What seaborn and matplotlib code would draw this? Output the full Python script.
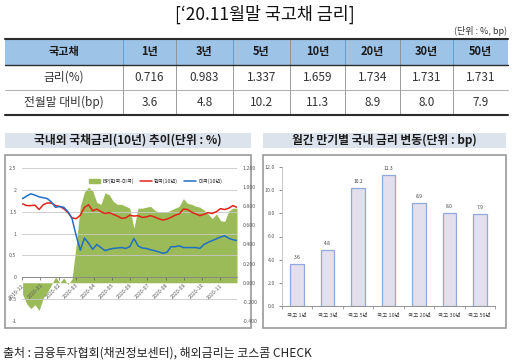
import numpy as np
import pandas as pd
import matplotlib
matplotlib.use("Agg")
import matplotlib.pyplot as plt
import matplotlib.dates as mdates
from matplotlib.patches import Rectangle, Patch
from matplotlib.lines import Line2D
from matplotlib.ticker import FuncFormatter
import seaborn as sns

# ---------------------------
# DATA
# ---------------------------
maturities = ["1년", "3년", "5년", "10년", "20년", "30년", "50년"]
rates = [0.716, 0.983, 1.337, 1.659, 1.734, 1.731, 1.731]
change_bp = [3.6, 4.8, 10.2, 11.3, 8.9, 8.0, 7.9]
bar_labels = ["국고 1년", "국고 3년", "국고 5년", "국고 10년", "국고 20년", "국고 30년", "국고 50년"]

# weekly readings, 2019-12-02 .. 2020-11-30
dates = pd.date_range("2019-12-02", periods=53, freq="7D")
kr_10y = [1.68, 1.64, 1.64, 1.65, 1.55, 1.66, 1.70, 1.70, 1.64, 1.62, 1.57, 1.48, 1.36,
          1.34, 1.42, 1.60, 1.66, 1.52, 1.56, 1.50, 1.46, 1.48, 1.44, 1.40, 1.35, 1.36,
          1.42, 1.40, 1.41, 1.37, 1.38, 1.41, 1.38, 1.34, 1.31, 1.33, 1.37, 1.42, 1.45,
          1.56, 1.55, 1.49, 1.45, 1.41, 1.44, 1.48, 1.46, 1.50, 1.57, 1.55, 1.58, 1.64, 1.60]
us_10y = [1.80, 1.86, 1.91, 1.88, 1.84, 1.82, 1.80, 1.72, 1.60, 1.62, 1.60, 1.50, 1.34,
          0.95, 0.62, 0.90, 0.78, 0.64, 0.75, 0.68, 0.61, 0.64, 0.66, 0.67, 0.68, 0.66,
          0.70, 0.89, 0.72, 0.67, 0.66, 0.63, 0.61, 0.58, 0.55, 0.57, 0.70, 0.70, 0.72,
          0.68, 0.68, 0.68, 0.68, 0.66, 0.75, 0.80, 0.84, 0.88, 0.92, 0.95, 0.89, 0.86, 0.84]
spread = [-0.12, -0.22, -0.27, -0.23, -0.29, -0.16, -0.10, -0.02, 0.06, 0.00, 0.05, -0.02, 0.04,
          0.40, 0.80, 0.95, 1.00, 0.96, 0.84, 0.82, 0.94, 0.92, 0.85, 0.82, 0.82, 0.80,
          0.78, 0.57, 0.78, 0.78, 0.79, 0.80, 0.76, 0.74, 0.74, 0.74, 0.76, 0.78, 0.80,
          0.88, 0.83, 0.82, 0.80, 0.79, 0.76, 0.72, 0.67, 0.72, 0.65, 0.64, 0.75, 0.78, 0.78]

left_ticks = [-1, -0.5, 0, 0.5, 1, 1.5, 2, 2.5]
right_ticks = [-0.4, -0.2, 0.0, 0.2, 0.4, 0.6, 0.8, 1.0, 1.2]
bar_ticks = [0, 2, 4, 6, 8, 10, 12]

# ---------------------------
# STYLE
# ---------------------------
sns.set_theme(style="white")
plt.rcParams["font.family"] = ["Noto Sans CJK KR", "DejaVu Sans"]
plt.rcParams["axes.unicode_minus"] = False

W, H = 512, 364
fig = plt.figure(figsize=(W / 100, H / 100), dpi=100)


def px_rect(x0, y0, x1, y1):
    return [x0 / W, 1 - y1 / H, (x1 - x0) / W, (y1 - y0) / H]


bg = fig.add_axes([0, 0, 1, 1])
bg.set_xlim(0, W)
bg.set_ylim(H, 0)
bg.axis("off")

# title
bg.text(265, 14, "[‘20.11월말 국고채 금리]", ha="center", va="center", fontsize=12.5, color="#111111")
bg.text(507, 31, "(단위 : %, bp)", ha="right", va="center", fontsize=6.5, color="#333333")

# ---------------------------
# TABLE
# ---------------------------
col_edges = [5, 123, 176, 233, 290, 345, 400, 453, 508]
bg.add_patch(Rectangle((5, 39), 503, 26, facecolor="#9DC3E6", edgecolor="none"))
for x in col_edges[1:-1]:
    bg.plot([x, x], [39, 115], color="#8C8C8C", lw=0.6)
bg.plot([5, 508], [39, 39], color="#2B2B2B", lw=1.5)
bg.plot([5, 508], [65, 65], color="#2B2B2B", lw=1.0)
bg.plot([5, 508], [90, 90], color="#A0A0A0", lw=0.6)
bg.plot([5, 508], [115, 115], color="#2B2B2B", lw=1.5)

centers = [(col_edges[i] + col_edges[i + 1]) / 2 for i in range(len(col_edges) - 1)]
bg.text(centers[0], 52, "국고채", ha="center", va="center", fontsize=8, fontweight="bold", color="#1A1A1A")
bg.text(centers[0], 77.5, "금리(%)", ha="center", va="center", fontsize=8.5, color="#333333")
bg.text(centers[0], 102.5, "전월말 대비(bp)", ha="center", va="center", fontsize=8.5, color="#333333")
for i, m in enumerate(maturities):
    cx = centers[i + 1]
    bg.text(cx, 52, m, ha="center", va="center", fontsize=8, fontweight="bold", color="#1A1A1A")
    bg.text(cx, 77.5, f"{rates[i]:.3f}", ha="center", va="center", fontsize=8.5, color="#333333")
    bg.text(cx, 102.5, f"{change_bp[i]:.1f}", ha="center", va="center", fontsize=8.5, color="#333333")

# ---------------------------
# PANEL FRAMES
# ---------------------------
bg.add_patch(Rectangle((5, 133), 246, 15, facecolor="#DCE3EC", edgecolor="none"))
bg.text(128, 140.5, "국내외 국채금리(10년) 추이(단위 : %)", ha="center", va="center",
        fontsize=8.5, fontweight="bold", color="#1A1A1A")
bg.add_patch(Rectangle((263, 133), 243, 15, facecolor="#DCE3EC", edgecolor="none"))
bg.text(384.5, 140.5, "월간 만기별 국내 금리 변동(단위 : bp)", ha="center", va="center",
        fontsize=8.5, fontweight="bold", color="#1A1A1A")
bg.add_patch(Rectangle((5, 155), 246, 173, fill=False, edgecolor="#9A9A9A", lw=1.2))
bg.add_patch(Rectangle((263, 155), 243, 173, fill=False, edgecolor="#9A9A9A", lw=1.2))

bg.text(3, 353, "출처 : 금융투자협회(채권정보센터), 해외금리는 코스콤 CHECK", ha="left", va="center",
        fontsize=8.6, color="#222222")

# ---------------------------
# LEFT CHART: 10Y yields
# ---------------------------
ax = fig.add_axes(px_rect(22, 168, 237, 321))
ax2 = ax.twinx()
ax2.fill_between(dates, 0, spread, color="#9BBB59", lw=0)
ax2.set_ylim(-0.4, 1.2)
ax2.set_yticks(right_ticks)
ax2.set_yticklabels([f"{v:.3f}" for v in right_ticks])
ax2.tick_params(axis="y", labelsize=3.8, colors="#595959", length=0, pad=4)
for s in ax2.spines.values():
    s.set_visible(False)
ax2.patch.set_visible(False)

ax.set_zorder(ax2.get_zorder() + 1)
ax.patch.set_visible(False)
sns.lineplot(x=dates, y=kr_10y, ax=ax, color="#E2231A", lw=1.1)
sns.lineplot(x=dates, y=us_10y, ax=ax, color="#1F6FC5", lw=1.1)
ax.set_ylim(-1, 2.5)
ax.set_xlim(pd.Timestamp("2019-12-01"), pd.Timestamp("2020-11-30"))
ax.set_yticks(left_ticks)
ax.yaxis.set_major_formatter(FuncFormatter(lambda v, p: f"{v:g}"))
ax.grid(axis="y", color="#C8C8C8", lw=0.6)
ax.grid(axis="x", visible=False)
ax.set_axisbelow(True)
ax.tick_params(axis="y", labelsize=3.8, colors="#595959", length=0, pad=4)
for side in ["left", "right", "top"]:
    ax.spines[side].set_visible(False)
ax.spines["bottom"].set_position(("data", 0))
ax.spines["bottom"].set_color("#808080")
ax.spines["bottom"].set_linewidth(0.6)
ax.xaxis.set_major_locator(mdates.MonthLocator())
ax.xaxis.set_major_formatter(mdates.DateFormatter("%Y-%m"))
ax.tick_params(axis="x", labelsize=3.8, colors="#595959", length=2, width=0.5, pad=2,
               labelrotation=45, bottom=True)
for lab in ax.get_xticklabels():
    lab.set_ha("right")
    lab.set_rotation_mode("anchor")
ax.set_xlabel("")
ax.set_ylabel("")

handles = [Patch(color="#9BBB59"),
           Line2D([], [], color="#E2231A", lw=1.1),
           Line2D([], [], color="#1F6FC5", lw=1.1)]
ax.legend(handles, ["BP(한국-미국)", "한국(10년)", "미국(10년)"], loc="center",
          bbox_to_anchor=(0.62, 0.915), ncol=3, fontsize=3.8, frameon=False,
          handlelength=2.2, handleheight=0.8, columnspacing=1.2, handletextpad=0.4)

# ---------------------------
# RIGHT CHART: monthly change
# ---------------------------
axb = fig.add_axes(px_rect(282, 167, 495, 306))
sns.barplot(x=bar_labels, y=change_bp, ax=axb, color="#E4DFEC", edgecolor="#8EA9DB",
            linewidth=0.9, width=0.45, saturation=1)
axb.set_ylim(0, 12)
axb.set_xlim(-0.5, 6.5)
axb.set_yticks(bar_ticks)
axb.set_yticklabels([f"{v:.1f}" for v in bar_ticks])
for c in axb.containers:
    axb.bar_label(c, fmt="%.1f", fontsize=3.5, padding=3, color="#404040")
axb.set_xticks(np.arange(-0.5, 7, 1), minor=True)
axb.tick_params(axis="x", which="major", length=0, labelsize=4, colors="#404040", pad=5)
axb.tick_params(axis="x", which="minor", length=2, width=0.5, color="#808080", bottom=True)
axb.tick_params(axis="y", labelsize=3.8, colors="#595959", length=2, width=0.5, left=True, pad=3)
axb.spines["left"].set_color("#BFBFBF")
axb.spines["left"].set_linewidth(0.6)
axb.spines["bottom"].set_color("#808080")
axb.spines["bottom"].set_linewidth(0.6)
axb.spines["top"].set_visible(False)
axb.spines["right"].set_visible(False)
axb.patch.set_visible(False)
axb.set_xlabel("")
axb.set_ylabel("")

fig.savefig("out.png", dpi=100)
